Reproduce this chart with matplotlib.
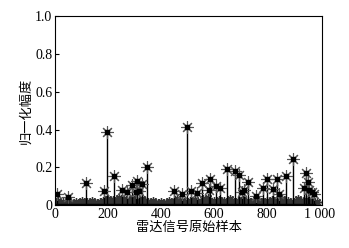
import numpy as np
import matplotlib.pyplot as plt

plt.rcParams['font.family'] = ['Liberation Serif', 'Noto Sans CJK SC']

# strong returns (sample index, normalised amplitude)
peak_idx = [6, 48, 118, 184, 196, 222, 253, 272, 289, 304, 310, 316, 329, 348,
            449, 481, 497, 513, 538, 557, 582, 585, 608, 623, 652, 681, 696,
            705, 715, 730, 759, 785, 801, 823, 839, 848, 873, 899, 943, 949,
            956, 962, 971, 981]
peak_amp = [0.06, 0.045, 0.115, 0.075, 0.385, 0.155, 0.08, 0.07, 0.105, 0.07,
            0.13, 0.075, 0.11, 0.2, 0.075, 0.06, 0.415, 0.075, 0.065, 0.115,
            0.08, 0.14, 0.1, 0.09, 0.19, 0.18, 0.16, 0.07, 0.08, 0.12, 0.05,
            0.09, 0.14, 0.085, 0.14, 0.06, 0.155, 0.245, 0.09, 0.17, 0.12,
            0.08, 0.07, 0.06]

# weak background samples, every 10th sample
bg_idx = np.arange(0, 1000, 10)
bg_amp = [0.01, 0.02, 0.005, 0.015, 0.01, 0.02, 0.01, 0.005, 0.015, 0.01,
          0.02, 0.01, 0.015, 0.005, 0.02, 0.01, 0.01, 0.015, 0.02, 0.01,
          0.03, 0.02, 0.025, 0.01, 0.04, 0.02, 0.03, 0.015, 0.02, 0.03,
          0.025, 0.02, 0.01, 0.03, 0.02, 0.015, 0.01, 0.02, 0.005, 0.01,
          0.015, 0.01, 0.005, 0.02, 0.01, 0.015, 0.03, 0.01, 0.02, 0.01,
          0.015, 0.02, 0.01, 0.025, 0.01, 0.015, 0.03, 0.02, 0.04, 0.015,
          0.02, 0.01, 0.025, 0.015, 0.02, 0.01, 0.03, 0.02, 0.01, 0.02,
          0.015, 0.025, 0.01, 0.02, 0.015, 0.01, 0.03, 0.02, 0.015, 0.01,
          0.02, 0.01, 0.025, 0.015, 0.02, 0.01, 0.03, 0.015, 0.02, 0.01,
          0.015, 0.02, 0.03, 0.02, 0.01, 0.025, 0.015, 0.02, 0.01, 0.015]

xticks = [0, 200, 400, 600, 800, 1000]
xtick_labels = ['0', '200', '400', '600', '800', '1 000']
yticks = [0, 0.2, 0.4, 0.6, 0.8, 1.0]
ytick_labels = ['0', '0.2', '0.4', '0.6', '0.8', '1.0']

asterisk = (8, 2, 0)

fig = plt.figure(figsize=(3.49, 2.48), dpi=100)
ax = fig.add_axes([0.158, 0.173, 0.765, 0.762])

# grey noise floor
ax.axhspan(0, 0.022, color='#bbbbbb', zorder=0)
bml, bsl, bbl = ax.stem(bg_idx, bg_amp, linefmt='k-', basefmt=' ')
bml.set_marker(asterisk)
bml.set_color('#333333')
bml.set_markersize(6)
bsl.set_linewidth(1.2)

ml, sl, bl = ax.stem(peak_idx, peak_amp, linefmt='k-', basefmt='k-')
sl.set_linewidth(1.0)
ml.set_marker(asterisk)
ml.set_color('#555555')
ml.set_markersize(9)
ml.set_markeredgewidth(0.8)
bl.set_linewidth(2.5)
# dark centre of each asterisk
ax.plot(peak_idx, peak_amp, 'ks', markersize=2.5, linestyle='none')

ax.set_xlim(0, 1010)
ax.set_ylim(0, 1.0)
ax.set_xticks(xticks)
ax.set_xticklabels(xtick_labels)
ax.set_yticks(yticks)
ax.set_yticklabels(ytick_labels)
ax.tick_params(direction='in', length=3, labelsize=10, pad=2)
ax.set_xlabel('雷达信号原始样本', fontsize=9.5, family='Noto Sans CJK SC', labelpad=0)
ax.set_ylabel('归一化幅度', fontsize=9.5, family='Noto Sans CJK SC', labelpad=2)

fig.savefig('out.png', dpi=100)
